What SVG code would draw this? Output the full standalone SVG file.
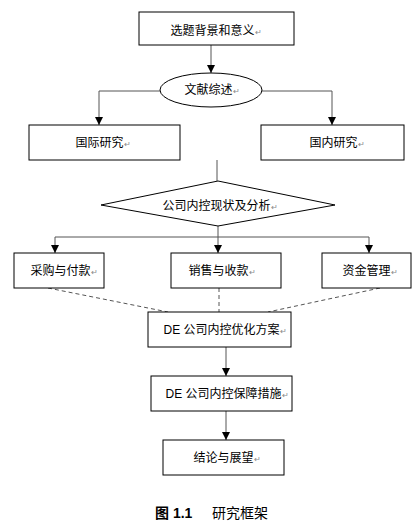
<svg xmlns="http://www.w3.org/2000/svg" width="419" height="525" viewBox="0 0 419 525">
<style>
.box{fill:#fff;stroke:#000;stroke-width:1}
.t{font-family:"Liberation Sans","Noto Sans CJK SC",sans-serif;font-size:12px;fill:#000;text-anchor:middle}
.r{fill:#888;font-size:8px}
.c{fill:none;stroke:#555;stroke-width:1}
.d{fill:none;stroke:#555;stroke-width:1;stroke-dasharray:4,3}
.cap{font-family:"Liberation Sans","Noto Sans CJK SC",sans-serif;font-size:14px;fill:#000}
</style>
<defs>
<marker id="ah" viewBox="0 0 10 10" refX="10" refY="5" markerWidth="8" markerHeight="8" markerUnits="userSpaceOnUse" orient="auto">
<path d="M0,0L10,5L0,10z" fill="#000"/>
</marker>
</defs>
<rect width="419" height="525" fill="#fff"/>
<g id="connectors">
<path class="c" d="M211,45V73" marker-end="url(#ah)"/>
<path class="c" d="M160,91H99V125" marker-end="url(#ah)"/>
<path class="c" d="M262,91H332V125" marker-end="url(#ah)"/>
<path class="c" d="M217,160V181"/>
<path class="c" d="M218,226V237"/>
<path class="c" d="M55,237H369"/>
<path class="c" d="M55,237V253" marker-end="url(#ah)"/>
<path class="c" d="M218,237V253" marker-end="url(#ah)"/>
<path class="c" d="M369,237V253" marker-end="url(#ah)"/>
<path class="d" d="M48,288L168,312"/>
<path class="d" d="M219,288V312"/>
<path class="d" d="M380,288L268,312"/>
<path class="c" d="M226,347V376" marker-end="url(#ah)"/>
<path class="c" d="M226,411V440" marker-end="url(#ah)"/>
</g>
<g id="n1"><rect class="box" x="139" y="12" width="155" height="33"/><text class="t" x="216" y="35">选题背景和意义<tspan class="r">↵</tspan></text></g>
<g id="n2"><ellipse class="box" cx="211" cy="90" rx="51" ry="17"/><text class="t" x="212" y="94">文献综述<tspan class="r">↵</tspan></text></g>
<g id="n3"><rect class="box" x="29" y="125" width="151" height="35"/><text class="t" x="103" y="147">国际研究<tspan class="r">↵</tspan></text></g>
<g id="n4"><rect class="box" x="261" y="125" width="143" height="35"/><text class="t" x="337" y="147">国内研究<tspan class="r">↵</tspan></text></g>
<g id="n5"><path class="box" d="M218,181L335,205L218,226L101,205Z"/><text class="t" x="220" y="210">公司内控现状及分析<tspan class="r">↵</tspan></text></g>
<g id="n6"><rect class="box" x="14" y="253" width="90" height="35"/><text class="t" x="64" y="275">采购与付款<tspan class="r">↵</tspan></text></g>
<g id="n7"><rect class="box" x="171" y="253" width="110" height="35"/><text class="t" x="222" y="275">销售与收款<tspan class="r">↵</tspan></text></g>
<g id="n8"><rect class="box" x="322" y="253" width="89" height="35"/><text class="t" x="370" y="275">资金管理<tspan class="r">↵</tspan></text></g>
<g id="n9"><rect class="box" x="148" y="312" width="143" height="35"/><text class="t" x="225" y="334">DE 公司内控优化方案<tspan class="r">↵</tspan></text></g>
<g id="n10"><rect class="box" x="151" y="376" width="141" height="35"/><text class="t" x="227" y="398">DE 公司内控保障措施<tspan class="r">↵</tspan></text></g>
<g id="n11"><rect class="box" x="163" y="440" width="121" height="35"/><text class="t" x="227" y="462">结论与展望<tspan class="r">↵</tspan></text></g>
<g id="caption"><text class="cap" x="155" y="518" font-weight="bold">图 1.1</text><text class="cap" x="212" y="518">研究框架</text></g>
</svg>
